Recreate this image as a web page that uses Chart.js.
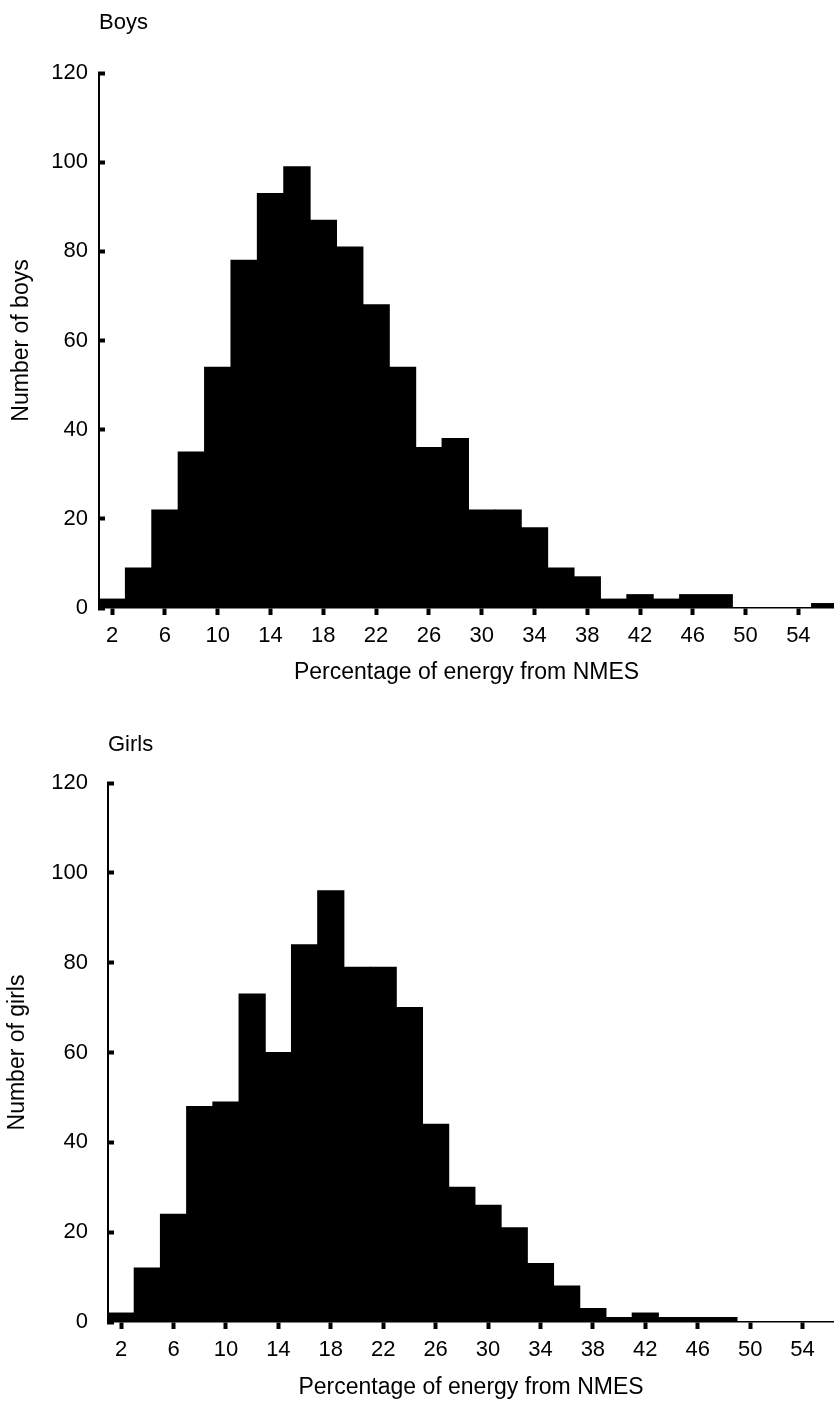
<!DOCTYPE html>
<html>
<head>
<meta charset="utf-8">
<title>Energy from NMES</title>
<script src="https://cdn.jsdelivr.net/npm/chart.js@4.4.0/dist/chart.umd.min.js"></script>
<style>
  html, body { margin: 0; padding: 0; background: #fff; }
  body { width: 834px; height: 1401px; overflow: hidden; }
  canvas { display: block; }
</style>
</head>
<body>
<canvas id="chartBoys" width="834" height="700"></canvas>
<canvas id="chartGirls" width="834" height="701"></canvas>
<script>
// bin centres (% energy from NMES, 2-unit bins)
const binCentres = [2, 4, 6, 8, 10, 12, 14, 16, 18, 20, 22, 24, 26, 28, 30, 32, 34, 36, 38, 40, 42, 44, 46, 48, 50, 52, 54, 56];
const boysCounts = [2, 9, 22, 35, 54, 78, 93, 99, 87, 81, 68, 54, 36, 38, 22, 22, 18, 9, 7, 2, 3, 2, 3, 3, 0, 0, 0, 1];
const girlsCounts = [2, 12, 24, 48, 49, 73, 60, 84, 96, 79, 79, 70, 44, 30, 26, 21, 13, 8, 3, 1, 2, 1, 1, 1, 0, 0, 0, 0];
const xTickValues = [2, 6, 10, 14, 18, 22, 26, 30, 34, 38, 42, 46, 50, 54];
const yTickValues = [0, 20, 40, 60, 80, 100, 120];

const xTitle = 'Percentage of energy from NMES';
const FONT = "'Liberation Sans', Arial, Helvetica, sans-serif";

Chart.defaults.font.family = FONT;
Chart.defaults.color = '#000';

const makeChart = (id, p) => {
  const ctx = document.getElementById(id).getContext('2d');
  return new Chart(ctx, {
    type: 'bar',
    data: {
      datasets: [{
        label: p.title,
        data: binCentres.map((c, i) => ({ x: c, y: p.counts[i] })),
        backgroundColor: '#000',
        borderWidth: 0,
        barPercentage: 1,
        categoryPercentage: 1,
        inflateAmount: 0.5
      }]
    },
    options: {
      responsive: false,
      animation: false,
      devicePixelRatio: 1,
      layout: { padding: 0 },
      plugins: {
        legend: { display: false },
        tooltip: { enabled: false },
        title: {
          display: true,
          text: p.title,
          align: 'start',
          fullSize: false,
          color: '#000',
          font: { size: 22, weight: 'normal' },
          padding: { top: p.titleTop, bottom: p.titleBottom }
        }
      },
      scales: {
        x: {
          type: 'linear',
          min: 1,
          max: p.xMax,
          offset: false,
          afterBuildTicks: (scale) => { scale.ticks = xTickValues.map(v => ({ value: v })); },
          afterFit: (scale) => { scale.height = p.xHeight; },
          ticks: {
            color: '#000',
            font: { size: 22 },
            padding: p.xLabelPad,
            maxRotation: 0,
            autoSkip: false,
            callback: (v) => String(v)
          },
          grid: {
            offset: false,
            drawOnChartArea: false,
            drawTicks: true,
            tickLength: 7,
            tickWidth: 4,
            tickColor: '#000'
          },
          border: { display: true, color: '#000', width: 1.5 },
          title: {
            display: true,
            text: xTitle,
            color: '#000',
            font: { size: 23 },
            padding: { top: 0, bottom: p.xTitleBottom }
          }
        },
        y: {
          min: 0,
          max: 120,
          afterBuildTicks: (scale) => { scale.ticks = yTickValues.map(v => ({ value: v })); },
          afterFit: (scale) => { scale.width = p.yWidth; },
          ticks: {
            color: '#000',
            font: { size: 22 },
            padding: p.yLabelPad,
            callback: (v) => String(v)
          },
          grid: {
            drawOnChartArea: false,
            drawTicks: true,
            tickLength: -6,
            tickWidth: 4,
            tickColor: '#000'
          },
          border: { display: true, color: '#000', width: 2 },
          title: {
            display: true,
            text: p.yTitle,
            color: '#000',
            font: { size: 23 },
            padding: { top: p.yTitleTop, bottom: 0 }
          }
        }
      }
    }
  });
};

makeChart('chartBoys', {
  title: 'Boys',
  counts: boysCounts,
  yTitle: 'Number of boys',
  xMax: 56.7,
  titleTop: 9.8,
  titleBottom: 36.8,
  xHeight: 92,
  xLabelPad: 7.5,
  xTitleBottom: 13.2,
  yWidth: 99,
  yLabelPad: 17,
  yTitleTop: 8.2
});

makeChart('chartGirls', {
  title: 'Girls',
  counts: girlsCounts,
  yTitle: 'Number of girls',
  xMax: 56.4,
  titleTop: 31.8,
  titleBottom: 24.8,
  xHeight: 79,
  xLabelPad: 7.5,
  xTitleBottom: 0,
  yWidth: 108,
  yLabelPad: 26,
  yTitleTop: 3.7
});
</script>
</body>
</html>
